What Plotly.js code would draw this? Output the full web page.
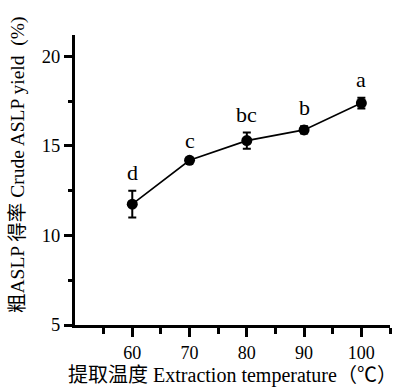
<!DOCTYPE html>
<html>
<head>
<meta charset="utf-8">
<script src="https://cdn.plot.ly/plotly-3.0.1.min.js"></script>
<style>html,body{margin:0;padding:0;background:#fff}#chart{width:398px;height:389px}</style>
</head>
<body>
<div id="chart"></div>
<script>
const temperatures = [60, 70, 80, 90, 100];
const yieldValues = [11.75, 14.2, 15.3, 15.9, 17.4];
const yieldErrors = [0.75, 0.1, 0.45, 0.2, 0.3];
const sigLetters = ['d', 'c', 'bc', 'b', 'a'];
const xTitle = '提取温度 Extraction temperature（℃）';
const yTitle = '粗ASLP 得率 Crude ASLP yield  (%)';

const FONT = '"Liberation Serif", "Times New Roman", "Noto Sans CJK SC", serif';

const trace = {
  x: temperatures,
  y: yieldValues,
  type: 'scatter',
  mode: 'lines+markers',
  line: {color: '#000', width: 1.6},
  marker: {color: '#000', size: 11},
  error_y: {type: 'data', array: yieldErrors, visible: true, color: '#000', thickness: 2, width: 4},
  hoverinfo: 'x+y'
};

const annotations = temperatures.map((t, i) => ({
  x: t, y: yieldValues[i] + yieldErrors[i],
  xref: 'x', yref: 'y',
  text: sigLetters[i],
  showarrow: false,
  yanchor: 'bottom',
  yshift: 4,
  font: {family: FONT, size: 22, color: '#000'}
}));

// y-axis title placed as a rotated annotation (reference title sits above plot centre)
annotations.push({
  xref: 'paper', yref: 'paper',
  x: 0, y: (325 - 165) / 290,
  xanchor: 'center', yanchor: 'middle',
  xshift: -57,
  textangle: -90,
  text: yTitle,
  showarrow: false,
  font: {family: FONT, size: 19.5, color: '#000'}
});

const layout = {
  width: 398, height: 389,
  margin: {l: 75, r: 7.5, t: 35, b: 64},
  paper_bgcolor: '#fff', plot_bgcolor: '#fff',
  showlegend: false,
  font: {family: FONT, color: '#000'},
  xaxis: {
    range: [50, 105],
    tickvals: temperatures,
    showgrid: false, zeroline: false,
    showline: true, linecolor: '#000', linewidth: 3,
    ticks: 'outside', ticklen: 9, tickwidth: 3, tickcolor: '#000',
    minor: {tickvals: [55, 65, 75, 85, 95, 105], ticks: 'outside', ticklen: 6, tickwidth: 3, tickcolor: '#000', showgrid: false},
    tickfont: {family: FONT, size: 18, color: '#000'},
    title: {text: xTitle, font: {family: FONT, size: 20, color: '#000'}, standoff: 7}
  },
  yaxis: {
    range: [5, 21.2],
    tickvals: [5, 10, 15, 20],
    showgrid: false, zeroline: false,
    showline: true, linecolor: '#000', linewidth: 3,
    ticks: 'outside', ticklen: 8, tickwidth: 3, tickcolor: '#000',
    minor: {tickvals: [7.5, 12.5, 17.5], ticks: 'outside', ticklen: 4, tickwidth: 3, tickcolor: '#000', showgrid: false},
    tickfont: {family: FONT, size: 18.5, color: '#000'}
  },
  annotations: annotations
};

Plotly.newPlot('chart', [trace], layout, {displayModeBar: false, staticPlot: true});
</script>
</body>
</html>
